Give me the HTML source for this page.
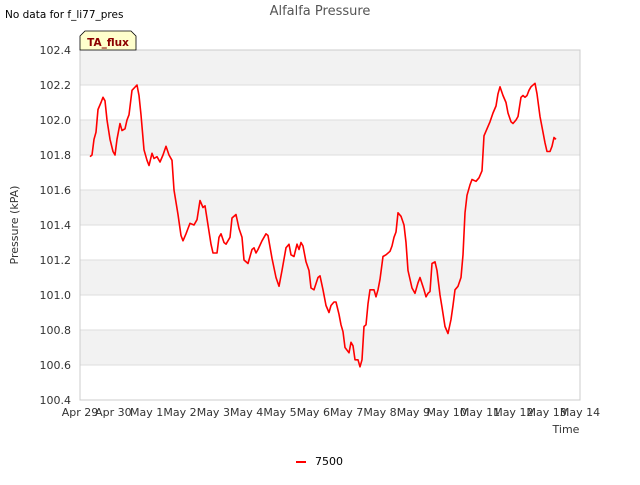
<!DOCTYPE html>
<html><head><meta charset="utf-8"><style>
body{margin:0;background:#fff;font-family:"Liberation Sans","DejaVu Sans",sans-serif;}
svg text{font-family:"DejaVu Sans","Liberation Sans",sans-serif;}
</style></head><body>
<svg id="chart" width="640" height="480" xmlns="http://www.w3.org/2000/svg">
<rect width="640" height="480" fill="#fff"/>
<text x="5" y="18" font-size="10.5" fill="#000">No data for f_li77_pres</text>
<text x="320" y="15" font-size="13" fill="#555" text-anchor="middle">Alfalfa Pressure</text>
<g id="bands"></g>
<g id="yticks"></g>
<g id="xticks"></g>
<rect x="80" y="50" width="500" height="350" fill="none" stroke="#ccc"/>
<polyline id="line" fill="none" stroke="#ff0000" stroke-width="1.6" stroke-linejoin="round"/>
<g>
<path d="M80,50 L80,36 L85,31 L131,31 L136,36 L136,50 Z" fill="#ffffcc" stroke="#000" stroke-width="0.8"/>
<text x="108" y="46" font-size="10.5" font-weight="bold" fill="#8b0000" text-anchor="middle">TA_flux</text>
</g>
<text transform="translate(18,225) rotate(-90)" font-size="11" fill="#333" text-anchor="middle">Pressure (kPA)</text>
<text x="566" y="433" font-size="11" fill="#333" text-anchor="middle">Time</text>
<g>
<line x1="296" y1="462" x2="306" y2="462" stroke="#ff0000" stroke-width="2"/>
<text x="315" y="465" font-size="11" fill="#000">7500</text>
</g>
</svg>
<script>
const days=[0.30,0.36,0.42,0.48,0.54,0.63,0.69,0.75,0.81,0.90,0.99,1.05,1.11,1.20,1.26,1.35,1.41,1.47,1.56,1.71,1.77,1.83,1.92,2.01,2.07,2.16,2.22,2.31,2.40,2.49,2.58,2.67,2.76,2.82,2.94,3.03,3.09,3.18,3.24,3.30,3.42,3.51,3.60,3.69,3.75,3.84,3.93,3.99,4.11,4.17,4.23,4.32,4.38,4.50,4.56,4.68,4.77,4.86,4.92,5.04,5.16,5.22,5.28,5.34,5.46,5.58,5.64,5.76,5.88,5.97,6.06,6.18,6.27,6.33,6.42,6.51,6.57,6.63,6.69,6.78,6.87,6.93,7.02,7.14,7.20,7.29,7.38,7.47,7.53,7.62,7.68,7.77,7.83,7.89,7.95,8.07,8.13,8.19,8.25,8.34,8.40,8.46,8.52,8.58,8.64,8.70,8.82,8.88,8.94,9.00,9.09,9.18,9.30,9.36,9.42,9.48,9.54,9.63,9.72,9.78,9.84,9.96,10.05,10.14,10.20,10.32,10.38,10.44,10.50,10.56,10.65,10.71,10.80,10.86,10.95,11.04,11.13,11.19,11.25,11.34,11.43,11.49,11.55,11.61,11.70,11.76,11.88,11.97,12.06,12.12,12.21,12.30,12.39,12.48,12.54,12.60,12.69,12.78,12.84,12.93,12.99,13.08,13.14,13.23,13.29,13.35,13.41,13.47,13.53,13.65,13.71,13.80,13.86,13.95,14.01,14.10,14.16,14.22,14.28];
const pressure=[101.79,101.80,101.89,101.93,102.06,102.10,102.13,102.11,102.00,101.89,101.82,101.80,101.89,101.98,101.94,101.95,102.00,102.03,102.17,102.20,102.14,102.03,101.83,101.77,101.74,101.81,101.78,101.79,101.76,101.80,101.85,101.80,101.77,101.60,101.46,101.34,101.31,101.35,101.38,101.41,101.40,101.43,101.54,101.50,101.51,101.40,101.29,101.24,101.24,101.33,101.35,101.30,101.29,101.33,101.44,101.46,101.38,101.33,101.20,101.18,101.26,101.27,101.24,101.26,101.31,101.35,101.34,101.21,101.10,101.05,101.14,101.27,101.29,101.23,101.22,101.29,101.26,101.30,101.28,101.19,101.14,101.04,101.03,101.10,101.11,101.03,100.94,100.90,100.94,100.96,100.96,100.89,100.83,100.79,100.70,100.67,100.73,100.71,100.63,100.63,100.59,100.63,100.82,100.83,100.95,101.03,101.03,100.99,101.03,101.09,101.22,101.23,101.25,101.28,101.33,101.36,101.47,101.45,101.40,101.30,101.14,101.04,101.01,101.07,101.10,101.03,100.99,101.01,101.02,101.18,101.19,101.14,101.00,100.93,100.82,100.78,100.86,100.94,101.03,101.05,101.10,101.23,101.47,101.57,101.63,101.66,101.65,101.67,101.71,101.91,101.95,101.99,102.04,102.08,102.15,102.19,102.14,102.10,102.04,101.99,101.98,102.00,102.02,102.13,102.14,102.13,102.14,102.17,102.19,102.21,102.15,102.02,101.96,101.87,101.82,101.82,101.85,101.90,101.89];
const yTicks=[100.4,100.6,100.8,101.0,101.2,101.4,101.6,101.8,102.0,102.2,102.4];
const xTickLabels=["Apr 29","Apr 30","May 1","May 2","May 3","May 4","May 5","May 6","May 7","May 8","May 9","May 10","May 11","May 12","May 13","May 14"];
const NS="http://www.w3.org/2000/svg";
const X0=80,X1=580,Y0=400,Y1=50,DMAX=15,VMIN=100.4,VMAX=102.4;
function xs(d){return X0+(X1-X0)*d/DMAX;}
function ys(v){return Y0-(Y0-Y1)*(v-VMIN)/(VMAX-VMIN);}
const bands=document.getElementById('bands'),yt=document.getElementById('yticks'),xt=document.getElementById('xticks');
for(let i=0;i<yTicks.length-1;i++){
  const yA=ys(yTicks[i+1]),yB=ys(yTicks[i]);
  const r=document.createElementNS(NS,'rect');
  
  
  r.setAttribute('x',X0);r.setAttribute('y',yA);r.setAttribute('width',X1-X0);r.setAttribute('height',yB-yA);
  r.setAttribute('fill',(yTicks.length-2-i)%2===0?'#f2f2f2':'#ffffff');
  bands.appendChild(r);
}
yTicks.forEach(v=>{
  const y=ys(v);
  const l=document.createElementNS(NS,'line');
  
  
  l.setAttribute('x1',X0);l.setAttribute('x2',X1);l.setAttribute('y1',y);l.setAttribute('y2',y);
  l.setAttribute('stroke','#dddddd');
  yt.appendChild(l);
  const t=document.createElementNS(NS,'text');
  
  
  t.setAttribute('x',X0-9);t.setAttribute('y',y+4);t.setAttribute('font-size','11');t.setAttribute('fill','#333');t.setAttribute('text-anchor','end');
  t.textContent=v.toFixed(1);
  yt.appendChild(t);
});
xTickLabels.forEach((s,i)=>{
  const x=xs(i);
  const t=document.createElementNS(NS,'text');
  
  
  t.setAttribute('x',x);t.setAttribute('y',416);t.setAttribute('font-size','11');t.setAttribute('fill','#333');t.setAttribute('text-anchor','middle');
  t.textContent=s;
  xt.appendChild(t);
});
document.getElementById('line').setAttribute('points',days.map((d,i)=>xs(d).toFixed(1)+','+ys(pressure[i]).toFixed(1)).join(' '));
</script>
</body></html>
